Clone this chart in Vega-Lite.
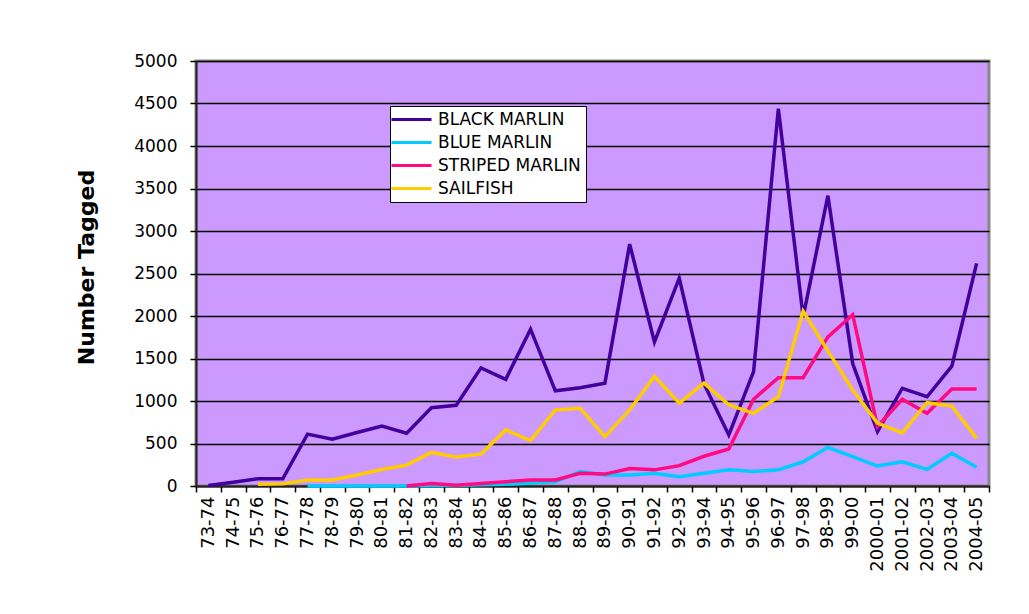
{
  "$schema": "https://vega.github.io/schema/vega-lite/v6.json",
  "width": 793,
  "height": 425,
  "autosize": "none",
  "padding": {"left": 196, "top": 61, "right": 40, "bottom": 128},
  "background": "white",
  "config": {
    "font": "DejaVu Sans",
    "view": {"fill": "#CC99FF", "stroke": "#888888", "strokeWidth": 3}
  },
  "data": {
    "values": [
      {"season": "73-74", "species": "BLACK MARLIN", "tagged": 5},
      {"season": "74-75", "species": "BLACK MARLIN", "tagged": 45},
      {"season": "75-76", "species": "BLACK MARLIN", "tagged": 85},
      {"season": "76-77", "species": "BLACK MARLIN", "tagged": 85},
      {"season": "77-78", "species": "BLACK MARLIN", "tagged": 610},
      {"season": "78-79", "species": "BLACK MARLIN", "tagged": 550},
      {"season": "79-80", "species": "BLACK MARLIN", "tagged": 630},
      {"season": "80-81", "species": "BLACK MARLIN", "tagged": 705},
      {"season": "81-82", "species": "BLACK MARLIN", "tagged": 620},
      {"season": "82-83", "species": "BLACK MARLIN", "tagged": 920},
      {"season": "83-84", "species": "BLACK MARLIN", "tagged": 950},
      {"season": "84-85", "species": "BLACK MARLIN", "tagged": 1390},
      {"season": "85-86", "species": "BLACK MARLIN", "tagged": 1255},
      {"season": "86-87", "species": "BLACK MARLIN", "tagged": 1845},
      {"season": "87-88", "species": "BLACK MARLIN", "tagged": 1120},
      {"season": "88-89", "species": "BLACK MARLIN", "tagged": 1155},
      {"season": "89-90", "species": "BLACK MARLIN", "tagged": 1210},
      {"season": "90-91", "species": "BLACK MARLIN", "tagged": 2845},
      {"season": "91-92", "species": "BLACK MARLIN", "tagged": 1695},
      {"season": "92-93", "species": "BLACK MARLIN", "tagged": 2445},
      {"season": "93-94", "species": "BLACK MARLIN", "tagged": 1200},
      {"season": "94-95", "species": "BLACK MARLIN", "tagged": 600},
      {"season": "95-96", "species": "BLACK MARLIN", "tagged": 1345},
      {"season": "96-97", "species": "BLACK MARLIN", "tagged": 4440},
      {"season": "97-98", "species": "BLACK MARLIN", "tagged": 1990},
      {"season": "98-99", "species": "BLACK MARLIN", "tagged": 3415},
      {"season": "99-00", "species": "BLACK MARLIN", "tagged": 1440},
      {"season": "2000-01", "species": "BLACK MARLIN", "tagged": 640},
      {"season": "2001-02", "species": "BLACK MARLIN", "tagged": 1150},
      {"season": "2002-03", "species": "BLACK MARLIN", "tagged": 1050},
      {"season": "2003-04", "species": "BLACK MARLIN", "tagged": 1410},
      {"season": "2004-05", "species": "BLACK MARLIN", "tagged": 2620},
      {"season": "77-78", "species": "BLUE MARLIN", "tagged": 0},
      {"season": "78-79", "species": "BLUE MARLIN", "tagged": 0},
      {"season": "79-80", "species": "BLUE MARLIN", "tagged": 0},
      {"season": "80-81", "species": "BLUE MARLIN", "tagged": 0},
      {"season": "81-82", "species": "BLUE MARLIN", "tagged": 0},
      {"season": "82-83", "species": "BLUE MARLIN", "tagged": 5},
      {"season": "83-84", "species": "BLUE MARLIN", "tagged": 5},
      {"season": "84-85", "species": "BLUE MARLIN", "tagged": 15},
      {"season": "85-86", "species": "BLUE MARLIN", "tagged": 20},
      {"season": "86-87", "species": "BLUE MARLIN", "tagged": 35},
      {"season": "87-88", "species": "BLUE MARLIN", "tagged": 50},
      {"season": "88-89", "species": "BLUE MARLIN", "tagged": 170},
      {"season": "89-90", "species": "BLUE MARLIN", "tagged": 130},
      {"season": "90-91", "species": "BLUE MARLIN", "tagged": 130},
      {"season": "91-92", "species": "BLUE MARLIN", "tagged": 150},
      {"season": "92-93", "species": "BLUE MARLIN", "tagged": 110},
      {"season": "93-94", "species": "BLUE MARLIN", "tagged": 150},
      {"season": "94-95", "species": "BLUE MARLIN", "tagged": 190},
      {"season": "95-96", "species": "BLUE MARLIN", "tagged": 170},
      {"season": "96-97", "species": "BLUE MARLIN", "tagged": 190},
      {"season": "97-98", "species": "BLUE MARLIN", "tagged": 285},
      {"season": "98-99", "species": "BLUE MARLIN", "tagged": 455},
      {"season": "99-00", "species": "BLUE MARLIN", "tagged": 345},
      {"season": "2000-01", "species": "BLUE MARLIN", "tagged": 235},
      {"season": "2001-02", "species": "BLUE MARLIN", "tagged": 285},
      {"season": "2002-03", "species": "BLUE MARLIN", "tagged": 195},
      {"season": "2003-04", "species": "BLUE MARLIN", "tagged": 385},
      {"season": "2004-05", "species": "BLUE MARLIN", "tagged": 220},
      {"season": "81-82", "species": "STRIPED MARLIN", "tagged": 0},
      {"season": "82-83", "species": "STRIPED MARLIN", "tagged": 30},
      {"season": "83-84", "species": "STRIPED MARLIN", "tagged": 10},
      {"season": "84-85", "species": "STRIPED MARLIN", "tagged": 30},
      {"season": "85-86", "species": "STRIPED MARLIN", "tagged": 50},
      {"season": "86-87", "species": "STRIPED MARLIN", "tagged": 70},
      {"season": "87-88", "species": "STRIPED MARLIN", "tagged": 70},
      {"season": "88-89", "species": "STRIPED MARLIN", "tagged": 150},
      {"season": "89-90", "species": "STRIPED MARLIN", "tagged": 140},
      {"season": "90-91", "species": "STRIPED MARLIN", "tagged": 205},
      {"season": "91-92", "species": "STRIPED MARLIN", "tagged": 190},
      {"season": "92-93", "species": "STRIPED MARLIN", "tagged": 240},
      {"season": "93-94", "species": "STRIPED MARLIN", "tagged": 350},
      {"season": "94-95", "species": "STRIPED MARLIN", "tagged": 435},
      {"season": "95-96", "species": "STRIPED MARLIN", "tagged": 1020},
      {"season": "96-97", "species": "STRIPED MARLIN", "tagged": 1275},
      {"season": "97-98", "species": "STRIPED MARLIN", "tagged": 1275},
      {"season": "98-99", "species": "STRIPED MARLIN", "tagged": 1755},
      {"season": "99-00", "species": "STRIPED MARLIN", "tagged": 2015},
      {"season": "2000-01", "species": "STRIPED MARLIN", "tagged": 700},
      {"season": "2001-02", "species": "STRIPED MARLIN", "tagged": 1020},
      {"season": "2002-03", "species": "STRIPED MARLIN", "tagged": 855},
      {"season": "2003-04", "species": "STRIPED MARLIN", "tagged": 1140},
      {"season": "2004-05", "species": "STRIPED MARLIN", "tagged": 1140},
      {"season": "75-76", "species": "SAILFISH", "tagged": 20},
      {"season": "76-77", "species": "SAILFISH", "tagged": 25},
      {"season": "77-78", "species": "SAILFISH", "tagged": 70},
      {"season": "78-79", "species": "SAILFISH", "tagged": 70},
      {"season": "79-80", "species": "SAILFISH", "tagged": 130},
      {"season": "80-81", "species": "SAILFISH", "tagged": 195},
      {"season": "81-82", "species": "SAILFISH", "tagged": 245},
      {"season": "82-83", "species": "SAILFISH", "tagged": 395},
      {"season": "83-84", "species": "SAILFISH", "tagged": 340},
      {"season": "84-85", "species": "SAILFISH", "tagged": 375},
      {"season": "85-86", "species": "SAILFISH", "tagged": 660},
      {"season": "86-87", "species": "SAILFISH", "tagged": 535},
      {"season": "87-88", "species": "SAILFISH", "tagged": 895},
      {"season": "88-89", "species": "SAILFISH", "tagged": 915},
      {"season": "89-90", "species": "SAILFISH", "tagged": 580},
      {"season": "90-91", "species": "SAILFISH", "tagged": 895},
      {"season": "91-92", "species": "SAILFISH", "tagged": 1290},
      {"season": "92-93", "species": "SAILFISH", "tagged": 975},
      {"season": "93-94", "species": "SAILFISH", "tagged": 1210},
      {"season": "94-95", "species": "SAILFISH", "tagged": 955},
      {"season": "95-96", "species": "SAILFISH", "tagged": 855},
      {"season": "96-97", "species": "SAILFISH", "tagged": 1050},
      {"season": "97-98", "species": "SAILFISH", "tagged": 2055},
      {"season": "98-99", "species": "SAILFISH", "tagged": 1590},
      {"season": "99-00", "species": "SAILFISH", "tagged": 1130},
      {"season": "2000-01", "species": "SAILFISH", "tagged": 740},
      {"season": "2001-02", "species": "SAILFISH", "tagged": 625},
      {"season": "2002-03", "species": "SAILFISH", "tagged": 980},
      {"season": "2003-04", "species": "SAILFISH", "tagged": 940},
      {"season": "2004-05", "species": "SAILFISH", "tagged": 560}
    ]
  },
  "mark": {"type": "line", "strokeWidth": 3.5, "strokeJoin": "miter"},
  "encoding": {
    "x": {
      "field": "season",
      "type": "ordinal",
      "sort": null,
      "bandPosition": 0.5,
      "scale": {"type": "band", "paddingInner": 0, "paddingOuter": 0},
      "axis": {
        "title": null,
        "labelAngle": -90,
        "labelFontSize": 18,
        "labelColor": "black",
        "labelPadding": 4,
        "tickBand": "extent",
        "tickColor": "black",
        "tickSize": 6,
        "tickWidth": 1.5,
        "domainColor": "#222222",
        "domainWidth": 2,
        "grid": false
      }
    },
    "y": {
      "field": "tagged",
      "type": "quantitative",
      "scale": {"domain": [0, 5000]},
      "axis": {
        "values": [0, 500, 1000, 1500, 2000, 2500, 3000, 3500, 4000, 4500, 5000],
        "format": "d",
        "title": "Number Tagged",
        "titleFontSize": 22,
        "titleFontWeight": "bold",
        "titleColor": "black",
        "titleX": -98,
        "titleY": 206,
        "labelFontSize": 17,
        "labelColor": "black",
        "labelPadding": 13,
        "gridColor": "black",
        "gridWidth": 1.5,
        "gridOpacity": 1,
        "tickColor": "black",
        "tickSize": 6,
        "tickWidth": 1.5,
        "domainColor": "#222222",
        "domainWidth": 2
      }
    },
    "color": {
      "field": "species",
      "type": "nominal",
      "sort": ["BLACK MARLIN", "BLUE MARLIN", "STRIPED MARLIN", "SAILFISH"],
      "scale": {
        "domain": ["BLACK MARLIN", "BLUE MARLIN", "STRIPED MARLIN", "SAILFISH"],
        "range": ["#42009C", "#00CCFF", "#FF0A80", "#FFCC00"]
      },
      "legend": {
        "orient": "none",
        "legendX": 194,
        "legendY": 45,
        "title": null,
        "fillColor": "white",
        "strokeColor": "black",
        "padding": 5,
        "symbolType": "M-6,0H14",
        "symbolSize": 16,
        "symbolStrokeWidth": 3,
        "labelFontSize": 17,
        "labelColor": "black",
        "labelOffset": 26,
        "rowPadding": 5
      }
    }
  }
}
